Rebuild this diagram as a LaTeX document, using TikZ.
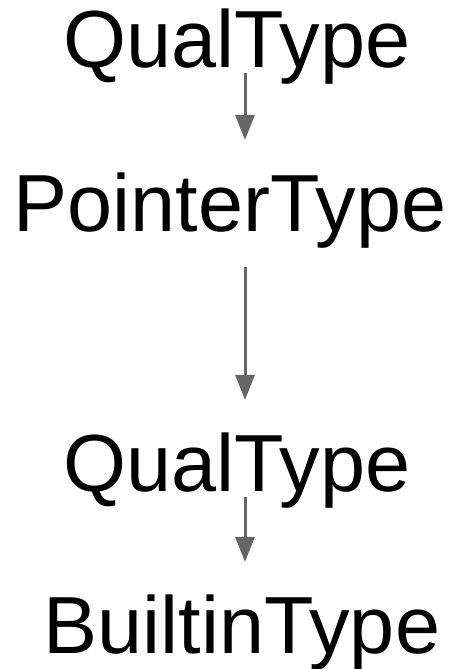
\documentclass[tikz,border=0pt]{standalone}
\usepackage{fontspec}
\setmainfont{Liberation Sans}
\usetikzlibrary{arrows.meta}
\definecolor{arrgray}{HTML}{666666}
\begin{document}
\begin{tikzpicture}[x=1pt,y=1pt,
  lbl/.style={anchor=base,inner sep=0pt,font=\fontsize{81}{81}\selectfont},
  arr/.style={draw=arrgray,line width=3pt,-{Triangle[length=25pt,width=19pt]},fill=arrgray}]
\useasboundingbox (0,0) rectangle (450,669);
\coordinate (ax) at (245,0);
\node[lbl] (q1) at (237,601) {QualType};
\node[lbl] (p1) at (230,437) {PointerType};
\node[lbl] (q2) at (237,177) {QualType};
\node[lbl] (b1) at (242,16) {BuiltinType};
\draw[arr] ([yshift=-5pt]q1.base -| ax) -- ([yshift=92pt]p1.base -| ax);
\draw[arr] ([yshift=-35pt]p1.base -| ax) -- ([yshift=92pt]q2.base -| ax);
\draw[arr] ([yshift=-5pt]q2.base -| ax) -- ([yshift=91pt]b1.base -| ax);
\end{tikzpicture}
\end{document}
